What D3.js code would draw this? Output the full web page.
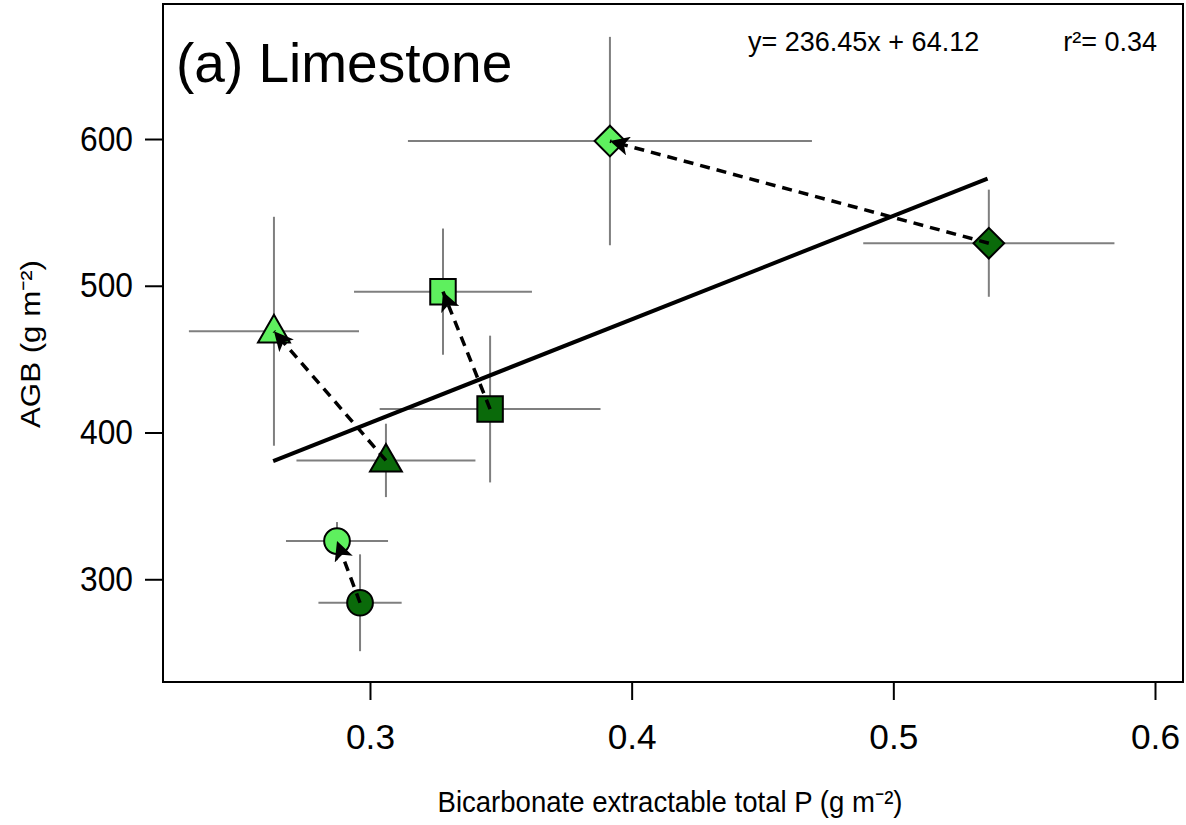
<!DOCTYPE html>
<html><head><meta charset="utf-8">
<script src="https://cdn.jsdelivr.net/npm/d3@7"></script>
<style>body{margin:0;background:#fff}svg{display:block}text{font-family:"Liberation Sans",Arial,sans-serif}</style>
</head><body>
<svg id="c" width="1186" height="825"></svg>
<script>
// treatments (shape) x period (dark = before, light = after)
const shapes = ["circle","triangle","square","diamond"];
const darkX  = [0.2962, 0.3061, 0.3459, 0.5365];
const darkY  = [284, 381, 416, 529];
const darkXerr = [0.0159, 0.0342, 0.0422, 0.048];
const darkYerr = [33, 25, 50, 36.5];
const lightX = [0.2874, 0.2633, 0.3279, 0.3917];
const lightY = [326, 469, 496, 598.6];
const lightXerr = [0.0195, 0.0325, 0.034, 0.0772];
const lightYerr = [13, 78, 43, 71];
const fitX = [0.263, 0.536];
const fitY = [380.5, 573];
const xTicks = [0.3, 0.4, 0.5, 0.6];
const yTicks = [300, 400, 500, 600];

const svg = d3.select("#c");
const L=163, R=1183, T=4, B=682;
const x = d3.scaleLinear().domain([0.2209, 0.6107]).range([L, R]);
const y = d3.scaleLinear().domain([230, 692]).range([B, T]);

// frame
svg.append("rect").attr("x",L).attr("y",T).attr("width",R-L).attr("height",B-T)
  .attr("fill","none").attr("stroke","#000").attr("stroke-width",2);

const xa = svg.append("g").attr("transform",`translate(0,${B})`)
  .call(d3.axisBottom(x).tickValues(xTicks).tickFormat(d3.format(".1f")).tickSize(18).tickPadding(24));
const ya = svg.append("g").attr("transform",`translate(${L},0)`)
  .call(d3.axisLeft(y).tickValues(yTicks).tickFormat(d3.format("d")).tickSize(18).tickPadding(12));
[xa,ya].forEach(a=>{
  a.select(".domain").remove();
  a.selectAll(".tick line").attr("stroke","#000").attr("stroke-width",2);
  a.selectAll(".tick text").attr("fill","#000").style("font-size","35px")
   .style("font-family","'Liberation Sans',Arial,sans-serif")
   .attr("lengthAdjust","spacingAndGlyphs");
});
xa.selectAll(".tick text").attr("dy","0.71em").attr("textLength",49);
ya.selectAll(".tick text").attr("textLength",53);

// axis titles
svg.append("text").attr("x",670).attr("y",812).attr("text-anchor","middle")
  .style("font-size","30px").attr("textLength",465).attr("lengthAdjust","spacingAndGlyphs")
  .text("Bicarbonate extractable total P (g m⁻²)");
svg.append("text").attr("transform","translate(40,344) rotate(-90)").attr("text-anchor","middle")
  .style("font-size","28px").attr("textLength",168).attr("lengthAdjust","spacingAndGlyphs")
  .text("AGB (g m⁻²)");

// title and equation
svg.append("text").attr("x",176).attr("y",82).style("font-size","55px").text("(a) Limestone");
svg.append("text").attr("x",748).attr("y",51).style("font-size","27px").text("y= 236.45x + 64.12");
svg.append("text").attr("x",1157).attr("y",51).attr("text-anchor","end").style("font-size","27px").text("r²= 0.34");

// error bars
const eb = svg.append("g").attr("stroke","#7f7f7f").attr("stroke-width",2);
function errBars(X,Y,XE,YE){
  X.forEach((v,i)=>{
    eb.append("line").attr("x1",x(v-XE[i])).attr("x2",x(v+XE[i])).attr("y1",y(Y[i])).attr("y2",y(Y[i]));
    eb.append("line").attr("x1",x(v)).attr("x2",x(v)).attr("y1",y(Y[i]-YE[i])).attr("y2",y(Y[i]+YE[i]));
  });
}
errBars(darkX,darkY,darkXerr,darkYerr);
errBars(lightX,lightY,lightXerr,lightYerr);

// regression line
svg.append("line").attr("x1",x(fitX[0])).attr("y1",y(fitY[0])).attr("x2",x(fitX[1])).attr("y2",y(fitY[1]))
  .attr("stroke","#000").attr("stroke-width",4);

// markers
const sym = {circle:d3.symbolCircle, triangle:d3.symbolTriangle, square:d3.symbolSquare, diamond:d3.symbolSquare};
const size = {circle:520, triangle:440, square:650, diamond:470};
function pts(X,Y,fill){
  X.forEach((v,i)=>{
    const s = shapes[i];
    svg.append("path").attr("d", d3.symbol().type(sym[s]).size(size[s])())
      .attr("transform",`translate(${x(v)},${y(Y[i]) + (s==="triangle"?2:0)})` + (s==="diamond"?" rotate(45)":""))
      .attr("fill",fill).attr("stroke","#000").attr("stroke-width",2);
  });
}
pts(darkX,darkY,"#0a6a0a");
pts(lightX,lightY,"#5ef05e");

// arrows
svg.append("defs").append("marker").attr("id","ah").attr("viewBox","0 0 10 10")
  .attr("refX",10).attr("refY",5).attr("markerWidth",5.5).attr("markerHeight",5.5)
  .attr("markerUnits","strokeWidth").attr("orient","auto")
  .append("path").attr("d","M0,0 L10,5 L0,10 L2.5,5 Z").attr("fill","#000");
darkX.forEach((v,i)=>{
  svg.append("line").attr("x1",x(v)).attr("y1",y(darkY[i])).attr("x2",x(lightX[i])).attr("y2",y(lightY[i]))
    .attr("stroke","#000").attr("stroke-width",3.5).attr("stroke-dasharray","10,7")
    .attr("marker-end","url(#ah)");
});
</script>
</body></html>
